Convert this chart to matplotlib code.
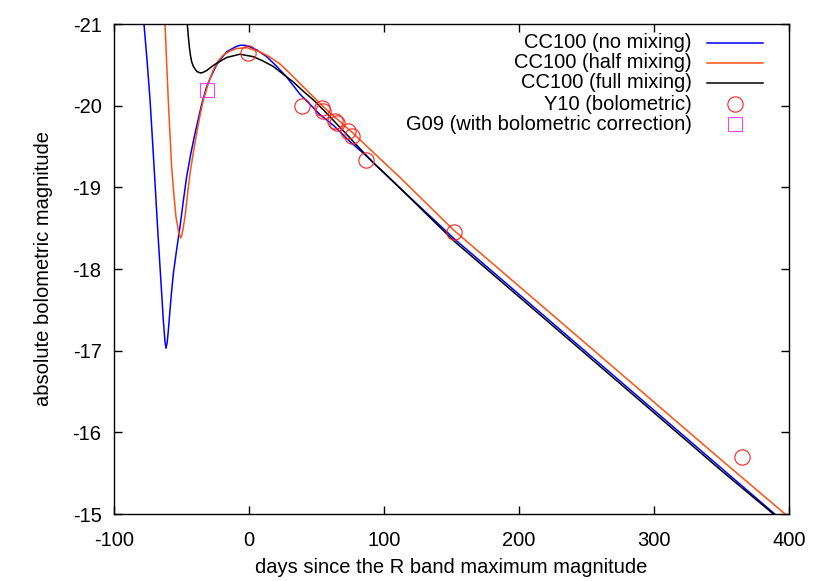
import numpy as np
import matplotlib
matplotlib.use("Agg")
import matplotlib.pyplot as plt

plt.rcParams['font.family'] = ['Liberation Sans', 'DejaVu Sans']
plt.rcParams['axes.unicode_minus'] = False

# light curves (days, absolute bolometric magnitude)
blue_day = [-79, -77.8, -75.5, -73.3, -71.5, -69.6, -67.8, -65.9, -64.6, -63.5, -62.3,
            -61.5, -60.6, -59.8, -59.0, -57.6, -56.0, -53.5, -51.1, -48.6, -46.2, -43.0,
            -40.0, -35, -31.4, -27.5, -24.0, -20, -16.5, -10, -6.7, -3, 0.7, 6, 13.1,
            20, 27.9, 37.8, 45, 52.6, 62.5, 74.8, 87.2, 100, 111.9, 152, 200, 250, 300,
            350, 400]
blue_mag = [-21.15, -21.0, -20.55, -20.07, -19.58, -19.05, -18.53, -18.02, -17.68, -17.38,
            -17.12, -17.03, -17.10, -17.24, -17.40, -17.68, -17.95, -18.25, -18.52, -18.84,
            -19.13, -19.42, -19.66, -20.02, -20.23, -20.38, -20.50, -20.59, -20.66, -20.72,
            -20.74, -20.74, -20.72, -20.68, -20.60, -20.49, -20.35, -20.14, -20.02, -19.89,
            -19.76, -19.56, -19.38, -19.18, -18.99, -18.37, -17.69, -16.98, -16.27, -15.56,
            -14.85]

orange_day = [-62.8, -62.2, -61.0, -59.8, -58.5, -57.3, -55.7, -54.1, -52.2, -51.2, -50.6,
              -50.0, -49.0, -47.4, -45.5, -43.7, -41.2, -38.8, -36.3, -33.8, -30, -26.4,
              -22.7, -19.0, -14, -9.1, -1.7, 8.1, 15, 23, 30, 37.8, 47, 57.5, 67, 77.3,
              90, 111.9, 152, 200, 250, 300, 350, 400]
orange_mag = [-21.15, -21.0, -20.52, -20.07, -19.64, -19.25, -18.92, -18.64, -18.46, -18.40,
              -18.38, -18.40, -18.48, -18.64, -18.92, -19.17, -19.43, -19.66, -19.88, -20.07,
              -20.28, -20.44, -20.55, -20.62, -20.67, -20.70, -20.71, -20.66, -20.60, -20.51,
              -20.40, -20.27, -20.12, -19.95, -19.81, -19.66, -19.46, -19.12, -18.47, -17.79,
              -17.08, -16.37, -15.66, -14.96]

black_day = [-46.3, -45.7, -45.0, -44.2, -43.4, -42.5, -41.2, -40.0, -38.7, -37.5, -35.5,
             -33.8, -31.4, -27.5, -23.9, -16.5, -6.7, 3.2, 10, 18.0, 25, 32.8, 40, 47.7,
             55, 62.5, 70, 77.3, 84.7, 92.1, 111.9, 152, 200, 250, 300, 350, 400]
black_mag = [-21.15, -21.0, -20.86, -20.72, -20.62, -20.54, -20.48, -20.45, -20.42, -20.41,
             -20.40, -20.41, -20.43, -20.48, -20.52, -20.59, -20.63, -20.60, -20.55, -20.48,
             -20.39, -20.29, -20.18, -20.07, -19.95, -19.82, -19.69, -19.56, -19.43, -19.30,
             -18.99, -18.34, -17.66, -16.95, -16.24, -15.53, -14.84]

# observations
y10_day = [-0.7, 39.3, 54.1, 54.8, 63.7, 65.2, 73.3, 76.3, 86.7, 151.9, 365.2]
y10_mag = [-20.64, -20.0, -19.97, -19.93, -19.81, -19.79, -19.69, -19.63, -19.33, -18.45, -15.70]
g09_day = [-31.1]
g09_mag = [-20.19]

labels = ["CC100 (no mixing)", "CC100 (half mixing)", "CC100 (full mixing)",
          "Y10 (bolometric)", "G09 (with bolometric correction)"]

c_blue = "#0000ff"
c_orange = "#ff5010"
c_black = "#000000"
c_red = "#ff2020"
c_mag = "#ff40ff"
fs = 14.5

fig = plt.figure(figsize=(8.3, 5.81), dpi=100)
ax = fig.add_axes([114/830, 1-514/581, 675/830, 490/581])

ax.plot(blue_day, blue_mag, color=c_blue, lw=1.1)
ax.plot(orange_day, orange_mag, color=c_orange, lw=1.1)
ax.plot(black_day, black_mag, color=c_black, lw=1.1)
ax.plot(y10_day, y10_mag, ls="none", marker="o", ms=11, mfc="none", mec=c_red, mew=0.8)
ax.plot(g09_day, g09_mag, ls="none", marker="s", ms=10.5, mfc="none", mec=c_mag, mew=0.8)

ax.set_xlim(-100, 400)
ax.set_ylim(-15, -21)
ax.set_xticks([-100, 0, 100, 200, 300, 400])
ax.set_yticks([-21, -20, -19, -18, -17, -16, -15])
ax.tick_params(direction="in", length=6, width=1, top=True, right=True, labelsize=fs)
ax.tick_params(axis="x", pad=12)
ax.tick_params(axis="y", pad=9)
for s in ax.spines.values():
    s.set_linewidth(1)
ax.set_xlabel("days since the R band maximum magnitude", fontsize=fs, labelpad=6)
ax.set_ylabel("absolute bolometric magnitude", fontsize=fs, labelpad=14)

# gnuplot-style key: right-aligned text, sample to the right
ys = [0.962, 0.921, 0.880, 0.836, 0.795]
tx = 0.856
for i, lab in enumerate(labels):
    ax.text(tx, ys[i], lab, transform=ax.transAxes, ha="right", va="center", fontsize=fs)
for y, c in zip(ys[:3], [c_blue, c_orange, c_black]):
    ax.plot([0.879, 0.961], [y, y], transform=ax.transAxes, color=c, lw=1.1)
ax.plot([0.920], [ys[3]], transform=ax.transAxes, marker="o", ms=11, mfc="none",
        mec=c_red, mew=0.8)
ax.plot([0.920], [ys[4]], transform=ax.transAxes, marker="s", ms=10.5, mfc="none",
        mec=c_mag, mew=0.8)

fig.savefig("out.png", dpi=100)
